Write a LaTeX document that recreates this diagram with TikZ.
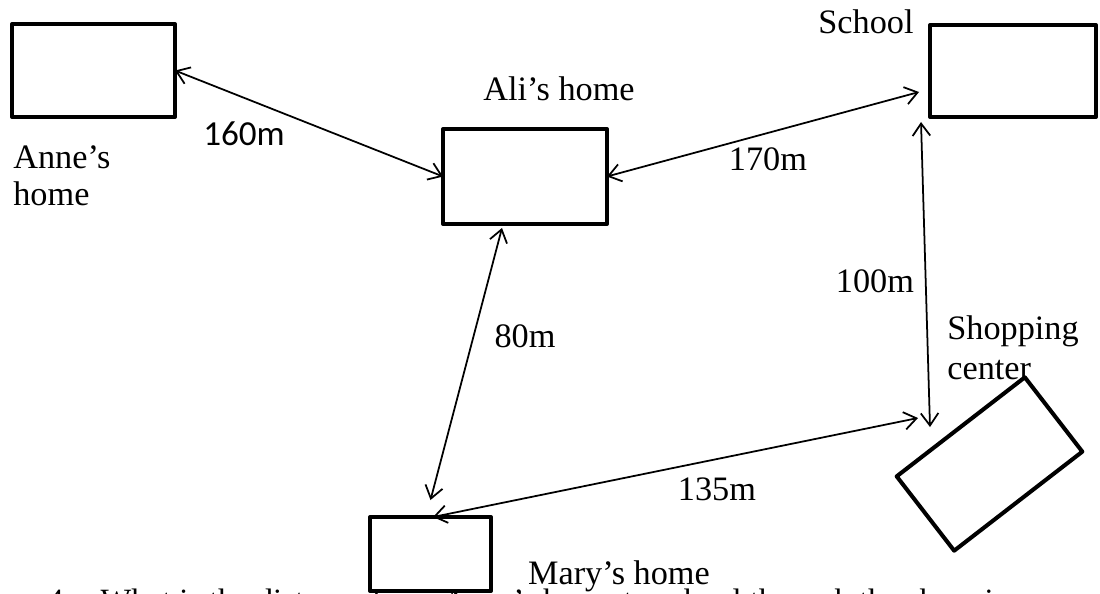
\documentclass[tikz,border=0pt]{standalone}
\usepackage{fontspec}
\setmainfont{Liberation Serif}
\newfontfamily\calibrifont{Carlito}
\usetikzlibrary{arrows.meta}

\begin{document}
\begin{tikzpicture}[x=0.02cm,y=-0.02cm,
	house/.style={draw,line width=2.3pt,inner sep=0pt,outer sep=0pt,line join=round},
	way/.style={{Straight Barb[length=7pt,width=10pt]}-{Straight Barb[length=7pt,width=10pt]},line width=1pt},
	lbl/.style={inner sep=0pt,font=\fontsize{19.5}{21}\selectfont}]
				
				\useasboundingbox (0,0) rectangle (1100,593);
				
				% question line, cut off by the page
				\node[anchor=base west,inner sep=0pt,font=\fontsize{18.5}{20}\selectfont] (question) at (47,611) {4.\hspace{0.58cm}What is the distance from Anne's home to school through the shopping};
				
				\node[house,minimum width=3.26cm,minimum height=1.86cm] (anne) at (93.5,70.5) {};
				\node[house,minimum width=3.28cm,minimum height=1.9cm] (ali) at (525,176.5) {};
				\node[house,minimum width=3.32cm,minimum height=1.84cm] (school) at (1013,71) {};
				\node[house,minimum width=3.24cm,minimum height=1.88cm,rotate=37.7] (shop) at (989.5,464) {};
				\node[house,fill=white,minimum width=2.42cm,minimum height=1.48cm] (mary) at (430.5,554) {};
				
				\node[lbl,anchor=north west,align=left] (lblAnne) at (13,145) {Anne's\\home};
				\node[lbl,anchor=base] (lblAli) at (559,100) {Ali's home};
				\node[lbl,anchor=base] (lblSchool) at (866,33) {School};
				\node[lbl,anchor=north west,align=left,font=\fontsize{19.5}{22.7}\selectfont] (lblShop) at (947,315) {Shopping\\center};
				\node[lbl,anchor=base] (lblMary) at (619,584) {Mary's home};
				
				\draw[way] (anne.east) -- (ali.west);
				\draw[way] (ali.east) -- ([shift={(-11,21)}]school.west);
				\draw[way] ([shift={(-9,5)}]school.south west) -- ([shift={(-59.5,-37)}]shop.center);
				\draw[way] ([shift={(-23,4)}]ali.south) -- ([shift={(0,-17)}]mary.north);
				\draw[way] ([shift={(2.5,0)}]mary.north) -- ([shift={(-71.5,-46)}]shop.center);
				
				\node[inner sep=0pt,anchor=base,font=\calibrifont\fontsize{20}{22}\selectfont] (d160) at (244,145) {160m};
				\node[lbl,anchor=base] (d170) at (768,170) {170m};
				\node[lbl,anchor=base] (d100) at (875,292) {100m};
				\node[lbl,anchor=base] (d80) at (525,347) {80m};
				\node[lbl,anchor=base] (d135) at (717,500) {135m};
				
\end{tikzpicture}
\end{document}
